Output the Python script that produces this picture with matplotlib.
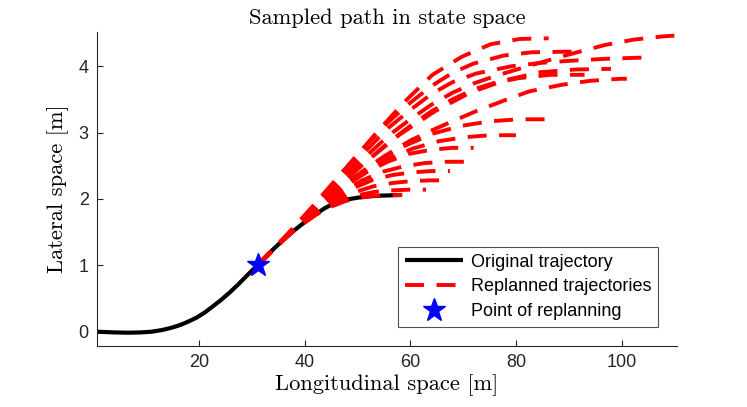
import matplotlib
matplotlib.use("Agg")
import matplotlib.pyplot as plt

# ---------------- data ----------------
orig_x = [0.7, 4.0, 6.6, 9.0, 11.0, 13.0, 14.8, 16.4, 17.9, 19.5, 21.1, 22.6, 24.2, 25.8, 27.4, 29.2,
          31.1, 32.7, 34.3, 36.2, 38.1, 40.0, 41.9, 43.8, 45.7, 47.9, 50.1, 52.3, 54.5, 56.4, 58.3]
orig_y = [0.0, -0.01, -0.015, -0.01, 0.0, 0.025, 0.06, 0.10, 0.15, 0.21, 0.29, 0.38, 0.48, 0.59, 0.71, 0.855,
          1.005, 1.135, 1.26, 1.40, 1.53, 1.65, 1.76, 1.86, 1.94, 1.99, 2.02, 2.04, 2.05, 2.055, 2.06]

replan_point_x = [31.1]
replan_point_y = [1.005]

t01_x = [31.1, 34.0, 36.7, 39.5, 42.2, 44.9, 47.6, 50.3, 53.1, 55.8, 58.5]
t01_y = [1.005, 1.235, 1.437, 1.615, 1.764, 1.88, 1.964, 2.018, 2.047, 2.058, 2.06]
t02_x = [31.1, 34.5, 37.6, 40.8, 44.0, 47.2, 50.3, 53.5, 56.7, 59.8, 63.0]
t02_y = [1.005, 1.27, 1.50, 1.70, 1.86, 1.98, 2.06, 2.11, 2.13, 2.14, 2.14]
t03_x = [31.1, 34.9, 38.5, 42.2, 45.8, 49.4, 53.0, 56.6, 60.3, 63.9, 67.5]
t03_y = [1.005, 1.31, 1.57, 1.79, 1.97, 2.10, 2.19, 2.24, 2.27, 2.28, 2.28]
t04_x = [31.1, 34.9, 38.5, 42.2, 45.8, 49.4, 53.0, 56.6, 60.3, 63.9, 67.5]
t04_y = [1.005, 1.31, 1.58, 1.81, 2.01, 2.17, 2.29, 2.36, 2.40, 2.42, 2.42]
t05_x = [31.1, 35.2, 39.1, 43.1, 47.0, 50.9, 54.8, 58.7, 62.7, 66.6, 70.5]
t05_y = [1.005, 1.33, 1.62, 1.88, 2.11, 2.28, 2.41, 2.49, 2.54, 2.56, 2.56]
t06_x = [31.1, 35.4, 39.4, 43.5, 47.6, 51.7, 55.7, 59.8, 63.9, 67.9, 72.0]
t06_y = [1.005, 1.34, 1.65, 1.94, 2.19, 2.40, 2.56, 2.68, 2.74, 2.77, 2.77]
t07_x = [31.1, 36.2, 41.0, 45.9, 50.8, 55.7, 60.5, 65.4, 70.3, 75.1, 80.0]
t07_y = [1.005, 1.41, 1.77, 2.10, 2.38, 2.60, 2.76, 2.87, 2.93, 2.96, 2.96]
t08_x = [31.1, 36.8, 42.2, 47.7, 53.2, 58.7, 64.1, 69.6, 75.1, 80.5, 86.0]
t08_y = [1.005, 1.45, 1.86, 2.23, 2.54, 2.79, 2.98, 3.10, 3.17, 3.20, 3.20]
t09_x = [31.1, 35.0, 40.0, 45.0, 50.0, 55.0, 60.0, 64.0, 67.7, 72.7, 78.0, 82.5, 88.7, 94.1, 99.7, 101.0]
t09_y = [1.005, 1.30, 1.68, 2.03, 2.36, 2.64, 2.88, 3.03, 3.16, 3.33, 3.49, 3.62, 3.72, 3.78, 3.81, 3.81]
t10_x = [31.1, 38.0, 44.6, 51.3, 58.0, 64.65, 71.3, 78.0, 84.7, 91.3, 98.0]
t10_y = [1.005, 1.55, 2.06, 2.54, 2.97, 3.32, 3.60, 3.79, 3.91, 3.95, 3.96]
t11_x = [31.1, 36.0, 41.0, 46.0, 51.0, 56.0, 60.0, 64.0, 68.0, 72.5, 79.2, 84.7, 90.0, 96.6, 104.0]
t11_y = [1.005, 1.40, 1.83, 2.26, 2.68, 3.08, 3.34, 3.58, 3.76, 3.89, 4.00, 4.05, 4.08, 4.11, 4.13]
t12_x = [31.1, 36.0, 41.0, 46.0, 51.0, 56.0, 60.0, 64.0, 68.0, 72.0, 76.0, 80.6, 86.2, 91.6, 96.9, 102.3, 108.0, 110.0]
t12_y = [1.005, 1.40, 1.80, 2.20, 2.60, 2.96, 3.20, 3.42, 3.60, 3.74, 3.85, 3.96, 4.09, 4.21, 4.32, 4.40, 4.45, 4.46]
t13_x = [31.1, 36.8, 42.3, 47.8, 53.3, 58.75, 64.2, 69.7, 75.2, 80.7, 86.2]
t13_y = [1.005, 1.47, 1.95, 2.45, 2.97, 3.45, 3.87, 4.14, 4.33, 4.41, 4.42]
t14_x = [31.1, 36.0, 41.0, 46.0, 51.0, 56.0, 60.0, 64.0, 68.0, 72.0, 77.7, 83.0, 91.0]
t14_y = [1.005, 1.40, 1.84, 2.30, 2.76, 3.17, 3.45, 3.70, 3.90, 4.04, 4.16, 4.21, 4.22]
t15_x = [31.1, 36.0, 41.0, 46.0, 51.0, 56.0, 60.0, 64.0, 68.0, 72.0, 76.0, 80.6, 86.5, 93.0]
t15_y = [1.005, 1.40, 1.79, 2.16, 2.52, 2.86, 3.10, 3.32, 3.50, 3.65, 3.75, 3.82, 3.87, 3.87]

x_ticks = [20, 40, 60, 80, 100]
y_ticks = [0, 1, 2, 3, 4]
title_text = "Sampled path in state space"
xlabel_text = "Longitudinal space [m]"
ylabel_text = "Lateral space [m]"
legend_labels = ["Original trajectory", "Replanned trajectories", "Point of replanning"]

replanned = [(t01_x, t01_y), (t02_x, t02_y), (t03_x, t03_y), (t04_x, t04_y),
             (t05_x, t05_y), (t06_x, t06_y), (t07_x, t07_y), (t08_x, t08_y),
             (t09_x, t09_y), (t10_x, t10_y), (t11_x, t11_y), (t12_x, t12_y),
             (t13_x, t13_y), (t14_x, t14_y), (t15_x, t15_y)]

# ---------------- figure ----------------
W, H = 747, 407
fig = plt.figure(figsize=(W / 100, H / 100), dpi=100)
ax = fig.add_axes([97 / W, (H - 346) / H, 580 / W, 314 / H])

tick_col = "#262626"
dash = (0, (4.9, 3.2))

h_orig, = ax.plot(orig_x, orig_y, color="black", lw=3.0, solid_capstyle="butt",
                  solid_joinstyle="round", zorder=2)
h_rep = None
for tx, ty in replanned:
    h, = ax.plot(tx, ty, color="red", lw=2.8, linestyle=dash, dash_capstyle="butt", zorder=3)
    if h_rep is None:
        h_rep = h
h_pt, = ax.plot(replan_point_x, replan_point_y, linestyle="none", marker="*",
                markersize=17, color="blue", markeredgecolor="blue", zorder=4)

ax.set_xlim(0.7, 110.5)
ax.set_ylim(-0.215, 4.515)
ax.set_xticks(x_ticks)
ax.set_yticks(y_ticks)

for s in ("top", "right"):
    ax.spines[s].set_visible(False)
for s in ("left", "bottom"):
    ax.spines[s].set_color(tick_col)
    ax.spines[s].set_linewidth(0.8)
ax.tick_params(direction="in", length=4, width=0.8, color=tick_col,
               labelcolor=tick_col, labelsize=13, pad=6)
for lab in ax.get_xticklabels() + ax.get_yticklabels():
    lab.set_fontfamily("Liberation Sans")

ax.set_title(title_text, fontfamily="cmr10", fontsize=16.2, color="black", pad=6)
ax.set_xlabel(xlabel_text, fontfamily="cmr10", fontsize=16.2, color="black", labelpad=2)
ax.set_ylabel(ylabel_text, fontfamily="cmr10", fontsize=16.2, color="black", labelpad=7)

leg = ax.legend([h_orig, h_rep, h_pt], legend_labels, loc="lower right",
                bbox_to_anchor=(0.968, 0.06), borderaxespad=0, frameon=True,
                fancybox=False, handlelength=3.2, handletextpad=0.45,
                labelspacing=0.42, borderpad=0.4,
                prop={"family": "Liberation Sans", "size": 13})
leg.get_frame().set_edgecolor(tick_col)
leg.get_frame().set_linewidth(0.8)

fig.savefig("out.png", dpi=100)
